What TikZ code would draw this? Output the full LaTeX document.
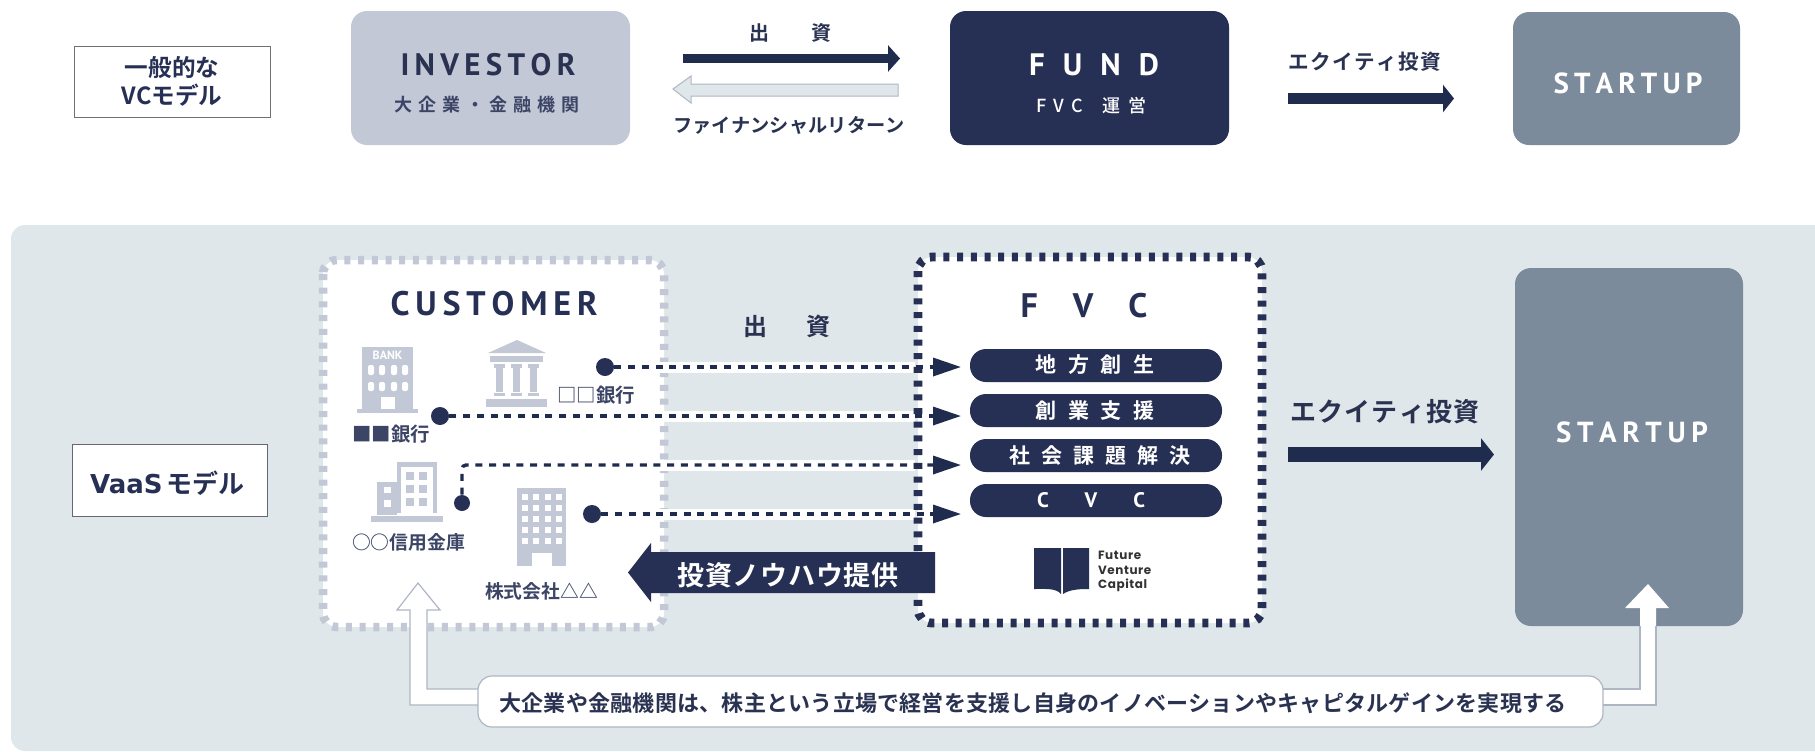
\documentclass[tikz,border=0pt]{standalone}
\usepackage{fontspec}
\usetikzlibrary{arrows.meta,calc}
\setmainfont{Noto Sans CJK JP Medium}[BoldFont={Noto Sans CJK JP Bold}]
\newfontfamily\din{PT Sans}
\newfontfamily\pop{Poppins}[LetterSpace=5]
\newfontfamily\dejav{DejaVu Sans}
\definecolor{navy}{HTML}{262F54}
\definecolor{arrownavy}{HTML}{202C4E}
\definecolor{inkc}{HTML}{2A3252}
\definecolor{softink}{HTML}{3C4566}
\definecolor{pale}{HTML}{C2C8D5}
\definecolor{slatec}{HTML}{7C8B9B}
\definecolor{mist}{HTML}{E0E7EA}
\definecolor{edgec}{HTML}{AEB6C4}
\makeatletter
\newcommand\spanbox[2]{\makebox[#1][s]{\@tempswafalse\@tfor\spx:=#2\do{\if@tempswa\hfil\fi\@tempswatrue\spx}}}
\makeatother
\newcommand\fsz[1]{\fontsize{#1}{#1}\selectfont}
\tikzset{
 x=0.5pt,y=-0.5pt,
 lab/.style={inner sep=0pt,outer sep=0pt,text=inkc,anchor=center},
 labw/.style={lab,text=white},
 labs/.style={lab,text=softink},
 card/.style={fill=#1,draw=none,rounded corners=8pt,inner sep=0pt,outer sep=0pt},
 pillbox/.style={fill=navy,draw=none,rounded corners=8pt,inner sep=0pt,outer sep=0pt,minimum width=126pt,minimum height=16.5pt},
 tagbox/.style={fill=white,draw=#1,line width=0.5pt,inner sep=0pt,outer sep=0pt},
 dotnode/.style={circle,fill=navy,inner sep=0pt,minimum size=9pt},
 dashline/.style={draw=arrownavy,line width=1.7pt,dash pattern=on 3.5pt off 3.35pt,-{Triangle[length=14pt,width=9pt,fill=arrownavy]}},
 halo/.style={draw=white,line width=5.5pt},
 iconc/.style={fill=pale,draw=none},
 iconw/.style={fill=white,draw=none},
}
\begin{document}
\begin{tikzpicture}
\useasboundingbox (0,0) rectangle (1815,751);
\fill[white] (0,0) rectangle (1815,751);
% backdrop
\fill[mist,rounded corners=7pt] (11,225) rectangle (1840,751);
% top row
\node[tagbox=gray!80!navy,minimum width=98pt,minimum height=35.5pt] (genbox) at (172,81.5) {};
\node[lab,font=\fsz{11.8}\bfseries,text=navy] (gen1) at (172,67.5) {一般的な};
\node[lab,font=\fsz{11.8}\bfseries,text=navy] (gen2) at (172,95) {VCモデル};
\node[card=pale,minimum width=139.5pt,minimum height=67pt] (inv) at (490.5,78) {};
\node[lab,font=\fsz{15.5}\din\bfseries] (investor) at (488,65) {\spanbox{87.5pt}{INVESTOR}};
\node[labs,font=\fsz{9}\bfseries] (investor2) at (487,105) {\spanbox{92.5pt}{大企業・金融機関}};
\node[lab,font=\fsz{10}\bfseries] (de1) at (790,33) {\spanbox{41pt}{出資}};
\coordinate (a1s) at (683,58.5); \coordinate (a1e) at (900,58.5);
\draw[line width=4.8pt,arrownavy,-{Triangle[length=6pt,width=13pt]}] (a1s) -- (a1e);
\draw[fill=mist,draw=edgec,line width=0.5pt] (673,89) -- (691,76) -- (691,84) -- (898,84) -- (898,96) -- (691,96) -- (691,103) -- cycle;
\node[lab,font=\fsz{9.6}\bfseries] (fin) at (789,125) {\spanbox{116pt}{ファイナンシャルリターン}};
\node[card=navy,minimum width=139.5pt,minimum height=67pt] (fundbox) at (1089.5,78) {};
\node[labw,font=\fsz{15.5}\din\bfseries] (fund) at (1094,65) {\spanbox{65pt}{FUND}};
\node[labw,font=\fsz{9}] (fund2) at (1091,106) {\spanbox{55pt}{FVC{\hspace{2pt}}運営}};
\node[lab,font=\fsz{10.3}\bfseries] (eq1) at (1365,62) {\spanbox{76.5pt}{エクイティ投資}};
\coordinate (a3s) at (1288,98.5); \coordinate (a3e) at (1454,98.5);
\draw[line width=5.5pt,arrownavy,-{Triangle[length=5.5pt,width=13.5pt]}] (a3s) -- (a3e);
\node[card=slatec,minimum width=113.5pt,minimum height=66.5pt] (stbox1) at (1626.5,78.5) {};
\node[labw,font=\fsz{14.5}\din\bfseries] (st1) at (1628,83) {\spanbox{74.5pt}{STARTUP}};
% customer
\draw[fill=white,draw=pale,line width=4.25pt,dash pattern=on 3pt off 3.85pt,rounded corners=7pt] (323,260) rectangle (664,627);
\foreach \yy in {367,416,465,514} \draw[halo] (652,\yy) -- (915,\yy);
% FVC
\draw[fill=white,draw=navy,line width=4.4pt,dash pattern=on 3pt off 3.85pt,rounded corners=7pt] (918,257) rectangle (1262,623);
\node[lab,font=\fsz{17}\din\bfseries,text=navy] (cust) at (494,304) {\spanbox{103.5pt}{CUSTOMER}};
\node[lab,font=\fsz{17}\din\bfseries,text=navy] (fvc) at (1084,306) {\spanbox{63.5pt}{FVC}};
% pills
\node[pillbox] (pl1) at (1096,365.5) {};
\node[pillbox] (pl2) at (1096,410.5) {};
\node[pillbox] (pl3) at (1096,455.5) {};
\node[pillbox] (pl4) at (1096,500.5) {};
\node[labw,font=\fsz{10.5}\bfseries] (p1) at (1095,365) {\spanbox{59.5pt}{地方創生}};
\node[labw,font=\fsz{10.5}\bfseries] (p2) at (1095,411) {\spanbox{59.5pt}{創業支援}};
\node[labw,font=\fsz{10.5}\bfseries] (p3) at (1100,456) {\spanbox{91pt}{社会課題解決}};
\node[labw,font=\fsz{10.5}\din\bfseries] (p4) at (1091,500) {\spanbox{54pt}{CVC}};
\node[lab,font=\fsz{12}\bfseries] (de2) at (787,326) {\spanbox{43.5pt}{出資}};
% connectors
\coordinate (h1) at ($(pl1.west)+(-9,1.5)$);
\coordinate (h2) at ($(pl2.west)+(-9,5.5)$);
\coordinate (h3) at ($(pl3.west)+(-9,9.5)$);
\coordinate (h4) at ($(pl4.west)+(-9,13.5)$);
\node[dotnode] (d1) at (605,367) {};
\node[dotnode] (d2) at (440,416) {};
\node[dotnode,minimum size=8pt] (d3) at (462,503) {};
\node[dotnode] (d4) at (592,514) {};
\draw[dashline] (d1) -- (h1);
\draw[dashline] (d2) -- (h2);
\draw[dashline,rounded corners=2pt] (d3) |- (h3);
\draw[dashline] (d4) -- (h4);
% knowledge arrow
\fill[navy] (628,572.5) -- (651,543) -- (651,552) -- (935,552) -- (935,593) -- (651,593) -- (651,602) -- cycle;
\node[labw,font=\fsz{13.5}\bfseries] (know) at (788,575) {\spanbox{110.5pt}{投資ノウハウ提供}};
% logo
\fill[navy] (1034,548) -- (1061,548) -- (1061,594) .. controls (1056,588) and (1046,589) .. (1034,589) -- cycle;
\fill[navy] (1063,548) -- (1089,548) -- (1089,589) .. controls (1082,589) and (1070,589) .. (1063,594) -- cycle;
\node[lab,font=\fsz{6}\pop,anchor=west,text=black!80] (lg1) at (1098,555) {\textbf{Future}};
\node[lab,font=\fsz{6}\pop,anchor=west,text=black!80] (lg2) at (1098,570) {\textbf{Venture}};
\node[lab,font=\fsz{6}\pop,anchor=west,text=black!80] (lg3) at (1098,585) {\textbf{Capital}};
% icons: bank
\fill[iconc] (362,347) rectangle (413,409);
\fill[iconc] (357,409) rectangle (418,413);
\node[labw,font=\fsz{6}\din\bfseries] (bank) at (387.5,355) {BANK};
\foreach \xx in {368,379,391,402} {
  \fill[iconw,rounded corners=1pt] (\xx,365) rectangle +(6,10);
  \fill[iconw,rounded corners=1pt] (\xx,382) rectangle +(6,9);
}
\fill[iconw] (381,397) rectangle (395,409);
% temple
\fill[iconc] (517,340) -- (546,353) -- (488,353) -- cycle;
\fill[iconc] (490,356) rectangle (543,362);
\foreach \xx in {494,511,528} {
  \fill[iconc] (\xx,364) rectangle +(11,4);
  \fill[iconc] (\xx+2,368) rectangle +(7,24);
  \fill[iconc] (\xx,393) rectangle +(11,3);
}
\fill[iconc] (486,399) rectangle (547,407);
\node[labs,font=\fsz{9.7}\bfseries] (bk1) at (596,395) {\spanbox{39pt}{□□銀行}};
\node[labs,font=\fsz{9.7}\bfseries] (bk2) at (391,434) {\spanbox{39pt}{■■銀行}};
% shinkin
\fill[iconc] (397,462) rectangle (437,513);
\fill[iconw] (401,467) rectangle (433,513);
\foreach \yy in {472,485,498} \foreach \xx in {406,419} \fill[iconc] (\xx,\yy) rectangle +(7.5,7.5);
\fill[iconc] (377,482) rectangle (397,515);
\fill[iconw] (384,487) rectangle (391,493);
\fill[iconw] (384,500) rectangle (391,507);
\fill[iconc] (371,516) rectangle (443,522);
\node[labs,font=\fsz{9.4}\bfseries] (bk3) at (408,542) {\spanbox{56pt}{○○信用金庫}};
% corp
\fill[iconc] (517,488) rectangle (566,566);
\foreach \yy in {494,505,516,527,538} \foreach \xx in {522,533,545,556} \fill[iconw] (\xx,\yy) rectangle +(6,6);
\fill[iconw] (532,553) rectangle (552,566);
\node[labs,font=\fsz{9.4}\bfseries] (bk4) at (541.5,591) {\spanbox{56.5pt}{株式会社△△}};
% VaaS
\node[tagbox=gray!70!navy,minimum width=97.5pt,minimum height=36pt] (vaasbox) at (169.5,480) {};
\node[lab,font=\fsz{13}\bfseries,text=navy] (vaas) at (167.5,483) {{\dejav VaaS}\,モデル};
% equity big
\node[lab,font=\fsz{13}\bfseries] (eq2) at (1385,412) {\spanbox{95pt}{エクイティ投資}};
\coordinate (a4s) at (1288,454.5); \coordinate (a4e) at (1494,454.5);
\draw[line width=7.5pt,arrownavy,-{Triangle[length=6.5pt,width=16pt]}] (a4s) -- (a4e);
\node[card=slatec,minimum width=114pt,minimum height=179pt] (stbox2) at (1629,447) {};
\node[labw,font=\fsz{14.5}\din\bfseries] (st2) at (1632,432) {\spanbox{76pt}{STARTUP}};
% feedback arrows
\path[fill=white,draw=edgec,line width=0.6pt] (500,705) -- (410,705) -- (410,610) -- (397,610) -- (418,583) -- (440,610) -- (427,610) -- (427,689) -- (500,689);
\fill[white] (1648,584) -- (1669,608) -- (1656,608) -- (1656,705) -- (1590,705) -- (1590,689) -- (1640,689) -- (1640,608) -- (1625,608) -- cycle;
\draw[edgec,line width=0.6pt] (1590,705) -- (1656,705) -- (1656,626);
\draw[edgec,line width=0.6pt] (1590,689) -- (1640,689) -- (1640,626);
\node[fill=white,draw=edgec,line width=0.6pt,rounded corners=7pt,inner sep=0pt,minimum width=562.5pt,minimum height=25.5pt] (notebox) at (1040.5,701.5) {};
\node[lab,font=\fsz{11}\bfseries] (note) at (1033,703) {\spanbox{533.5pt}{大企業や金融機関は、株主という立場で経営を支援し自身のイノベーションやキャピタルゲインを実現する}};
\end{tikzpicture}
\end{document}
